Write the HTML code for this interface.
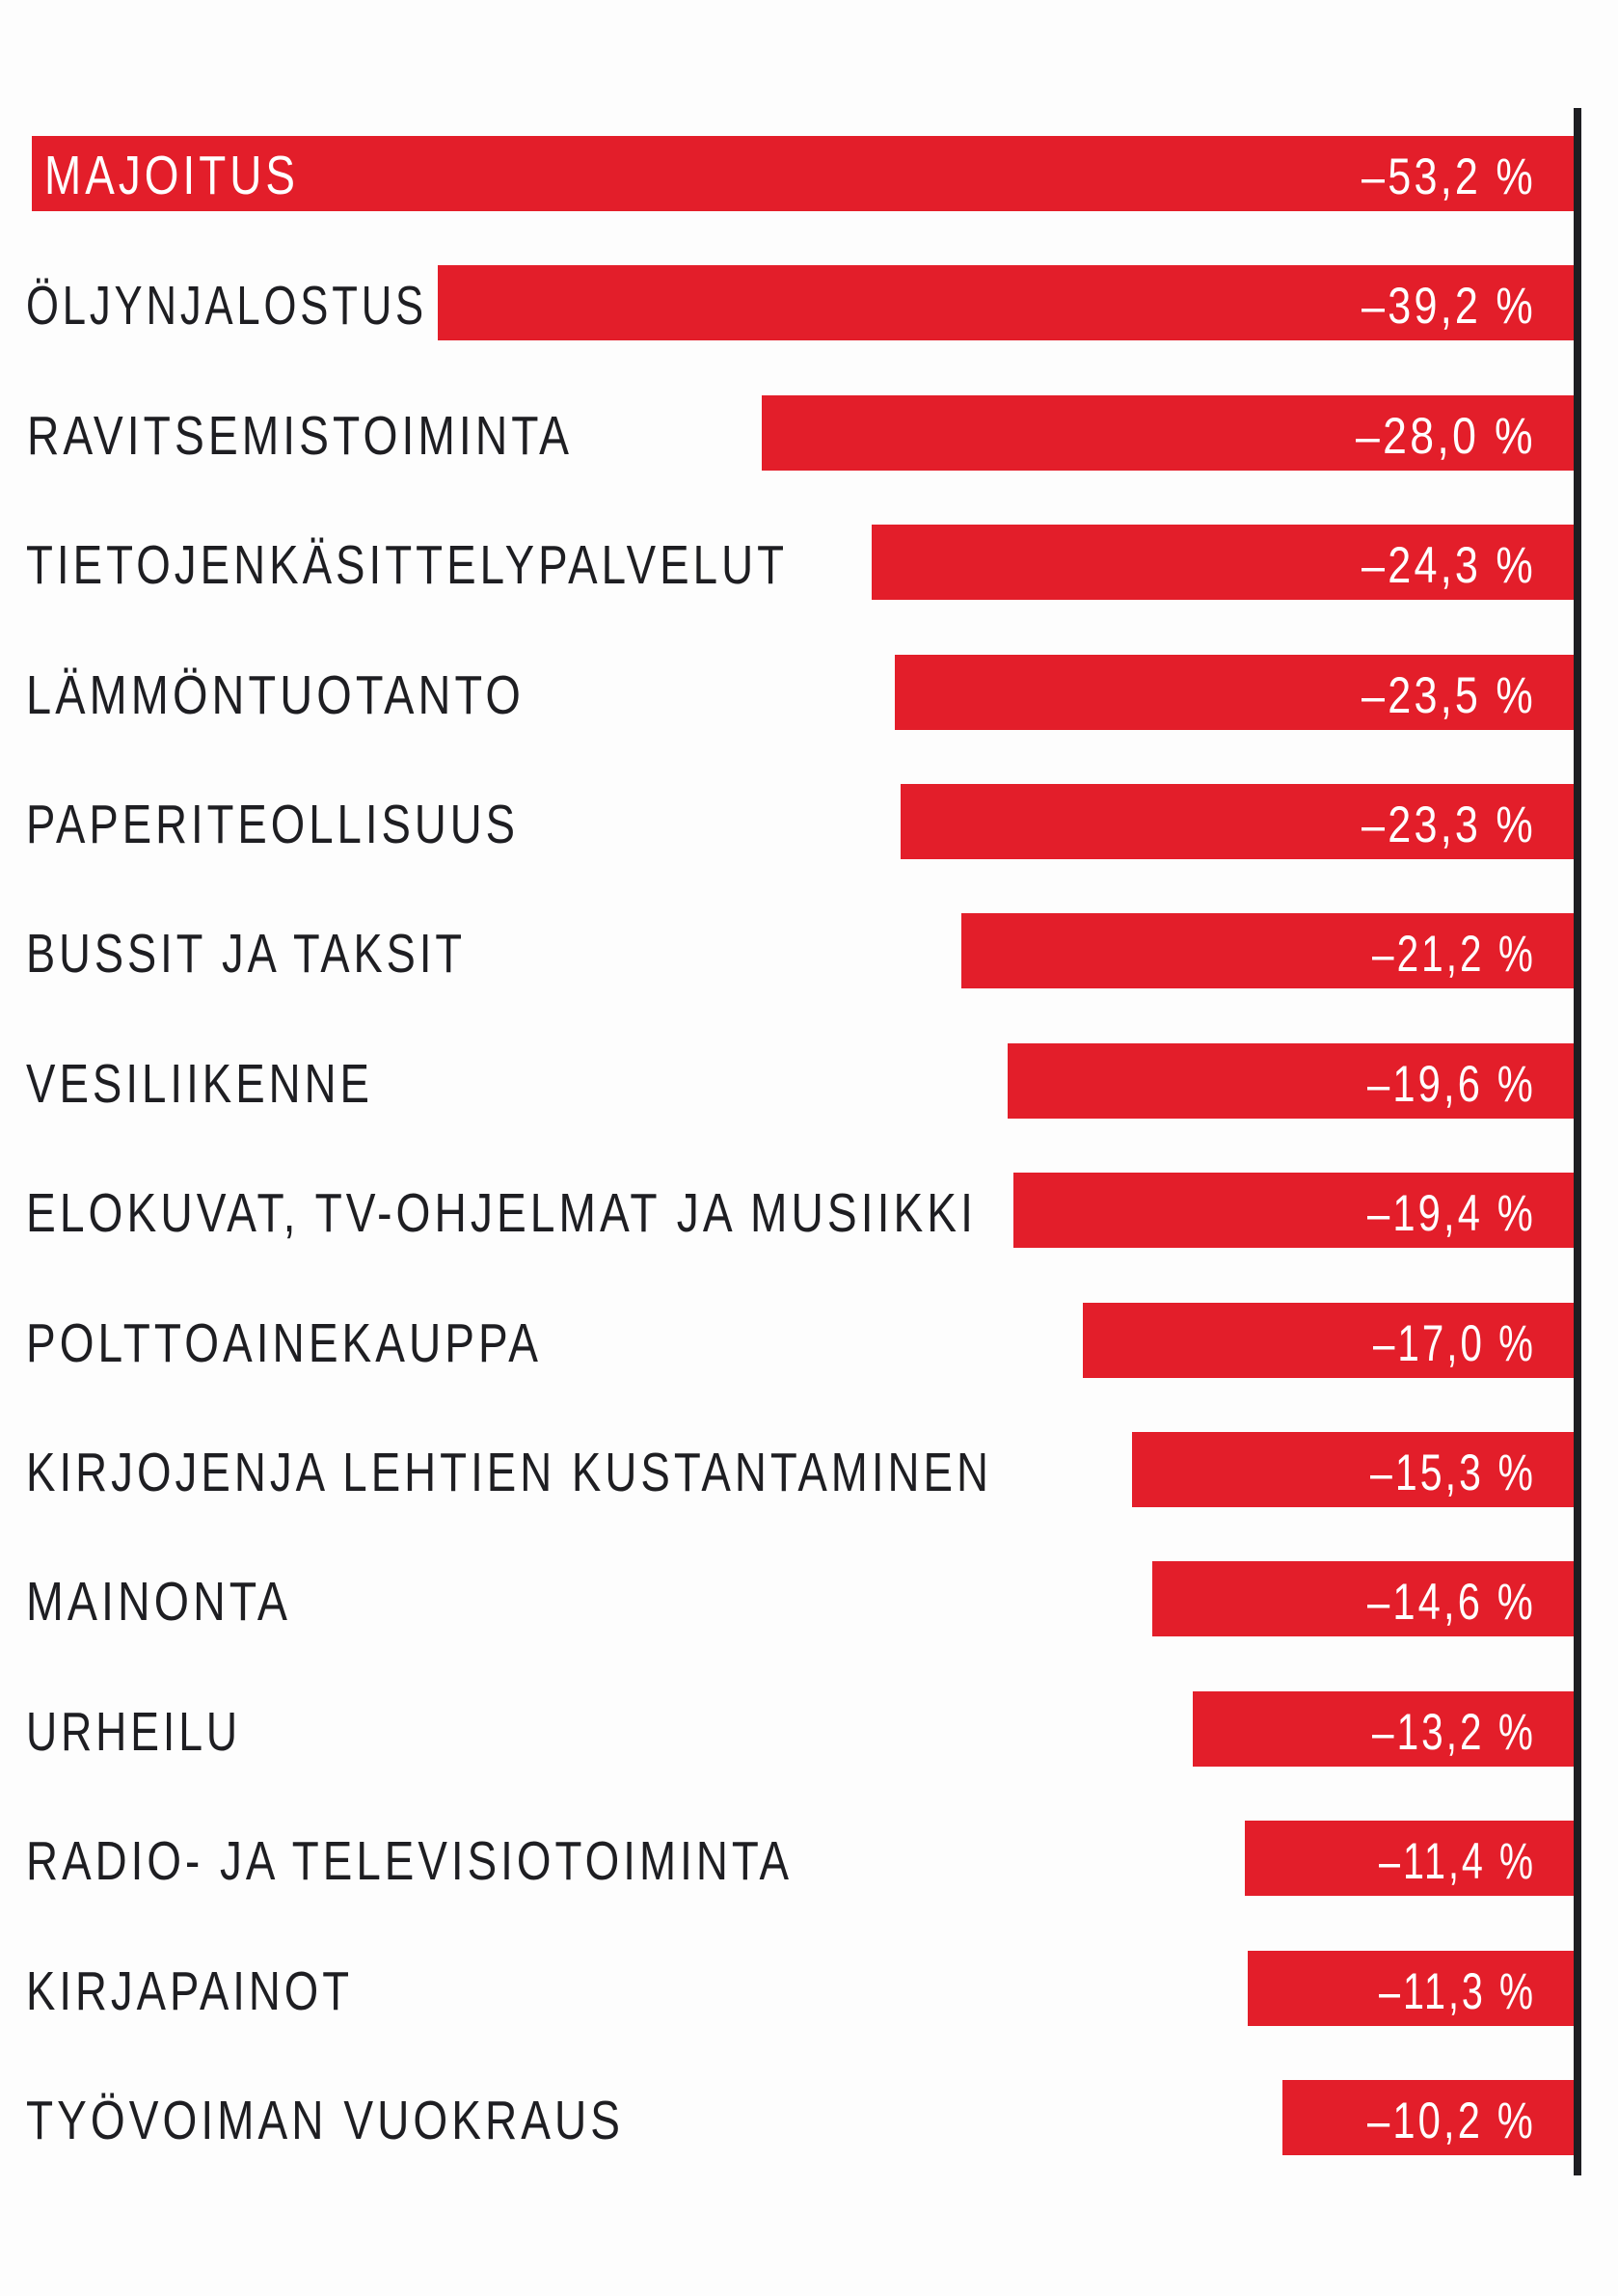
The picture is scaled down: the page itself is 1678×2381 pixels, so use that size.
<!DOCTYPE html>
<html><head><meta charset="utf-8"><style>
html,body{margin:0;padding:0;background:#fdfdfd;}
svg{display:block;}
.l{font-family:"Liberation Sans",sans-serif;font-size:57px;fill:#1e1e22;letter-spacing:5px;}
.v{font-family:"Liberation Sans",sans-serif;font-size:53px;fill:#fff;text-anchor:end;letter-spacing:4px;}
</style></head><body>
<svg width="1678" height="2381" viewBox="0 0 1678 2381" xmlns="http://www.w3.org/2000/svg">
<rect width="1678" height="2381" fill="#fdfdfd"/>
<g fill="#e31e2a">
<rect x="33" y="141" width="1599" height="78"/>
<rect x="454" y="275" width="1178" height="78"/>
<rect x="790" y="410" width="842" height="78"/>
<rect x="904" y="544" width="728" height="78"/>
<rect x="928" y="679" width="704" height="78"/>
<rect x="934" y="813" width="698" height="78"/>
<rect x="997" y="947" width="635" height="78"/>
<rect x="1045" y="1082" width="587" height="78"/>
<rect x="1051" y="1216" width="581" height="78"/>
<rect x="1123" y="1351" width="509" height="78"/>
<rect x="1174" y="1485" width="458" height="78"/>
<rect x="1195" y="1619" width="437" height="78"/>
<rect x="1237" y="1754" width="395" height="78"/>
<rect x="1291" y="1888" width="341" height="78"/>
<rect x="1294" y="2023" width="338" height="78"/>
<rect x="1330" y="2157" width="302" height="78"/>
</g>
<rect x="1632" y="112" width="8" height="2144" fill="#1e1e22"/>
<text class="l" x="46" y="201" textLength="264" lengthAdjust="spacingAndGlyphs" style="fill:#fff">MAJOITUS</text>
<text class="l" x="27" y="336" textLength="416" lengthAdjust="spacingAndGlyphs">ÖLJYNJALOSTUS</text>
<text class="l" x="28" y="471" textLength="566" lengthAdjust="spacingAndGlyphs">RAVITSEMISTOIMINTA</text>
<text class="l" x="27" y="605" textLength="790" lengthAdjust="spacingAndGlyphs">TIETOJENKÄSITTELYPALVELUT</text>
<text class="l" x="27" y="740" textLength="517" lengthAdjust="spacingAndGlyphs">LÄMMÖNTUOTANTO</text>
<text class="l" x="27" y="874" textLength="511" lengthAdjust="spacingAndGlyphs">PAPERITEOLLISUUS</text>
<text class="l" x="27" y="1008" textLength="456" lengthAdjust="spacingAndGlyphs">BUSSIT JA TAKSIT</text>
<text class="l" x="27" y="1143" textLength="360" lengthAdjust="spacingAndGlyphs">VESILIIKENNE</text>
<text class="l" x="27" y="1277" textLength="986" lengthAdjust="spacingAndGlyphs">ELOKUVAT, TV-OHJELMAT JA MUSIIKKI</text>
<text class="l" x="27" y="1412" textLength="535" lengthAdjust="spacingAndGlyphs">POLTTOAINEKAUPPA</text>
<text class="l" x="27" y="1546" textLength="1002" lengthAdjust="spacingAndGlyphs">KIRJOJENJA LEHTIEN KUSTANTAMINEN</text>
<text class="l" x="27" y="1680" textLength="275" lengthAdjust="spacingAndGlyphs">MAINONTA</text>
<text class="l" x="27" y="1815" textLength="223" lengthAdjust="spacingAndGlyphs">URHEILU</text>
<text class="l" x="27" y="1949" textLength="795" lengthAdjust="spacingAndGlyphs">RADIO- JA TELEVISIOTOIMINTA</text>
<text class="l" x="27" y="2084" textLength="339" lengthAdjust="spacingAndGlyphs">KIRJAPAINOT</text>
<text class="l" x="27" y="2218" textLength="620" lengthAdjust="spacingAndGlyphs">TYÖVOIMAN VUOKRAUS</text>
<text class="v" x="1593" y="201" textLength="181" lengthAdjust="spacingAndGlyphs">–53,2 %</text>
<text class="v" x="1593" y="335" textLength="181" lengthAdjust="spacingAndGlyphs">–39,2 %</text>
<text class="v" x="1593" y="470" textLength="187" lengthAdjust="spacingAndGlyphs">–28,0  %</text>
<text class="v" x="1593" y="604" textLength="181" lengthAdjust="spacingAndGlyphs">–24,3 %</text>
<text class="v" x="1593" y="739" textLength="181" lengthAdjust="spacingAndGlyphs">–23,5 %</text>
<text class="v" x="1593" y="873" textLength="181" lengthAdjust="spacingAndGlyphs">–23,3 %</text>
<text class="v" x="1593" y="1007" textLength="170" lengthAdjust="spacingAndGlyphs">–21,2 %</text>
<text class="v" x="1593" y="1142" textLength="175" lengthAdjust="spacingAndGlyphs">–19,6 %</text>
<text class="v" x="1593" y="1276" textLength="175" lengthAdjust="spacingAndGlyphs">–19,4 %</text>
<text class="v" x="1593" y="1411" textLength="169" lengthAdjust="spacingAndGlyphs">–17,0  %</text>
<text class="v" x="1593" y="1545" textLength="172" lengthAdjust="spacingAndGlyphs">–15,3 %</text>
<text class="v" x="1593" y="1679" textLength="175" lengthAdjust="spacingAndGlyphs">–14,6  %</text>
<text class="v" x="1593" y="1814" textLength="170" lengthAdjust="spacingAndGlyphs">–13,2 %</text>
<text class="v" x="1593" y="1948" textLength="163" lengthAdjust="spacingAndGlyphs">–11,4 %</text>
<text class="v" x="1593" y="2083" textLength="163" lengthAdjust="spacingAndGlyphs">–11,3 %</text>
<text class="v" x="1593" y="2217" textLength="175" lengthAdjust="spacingAndGlyphs">–10,2 %</text>
</svg>
</body></html>
